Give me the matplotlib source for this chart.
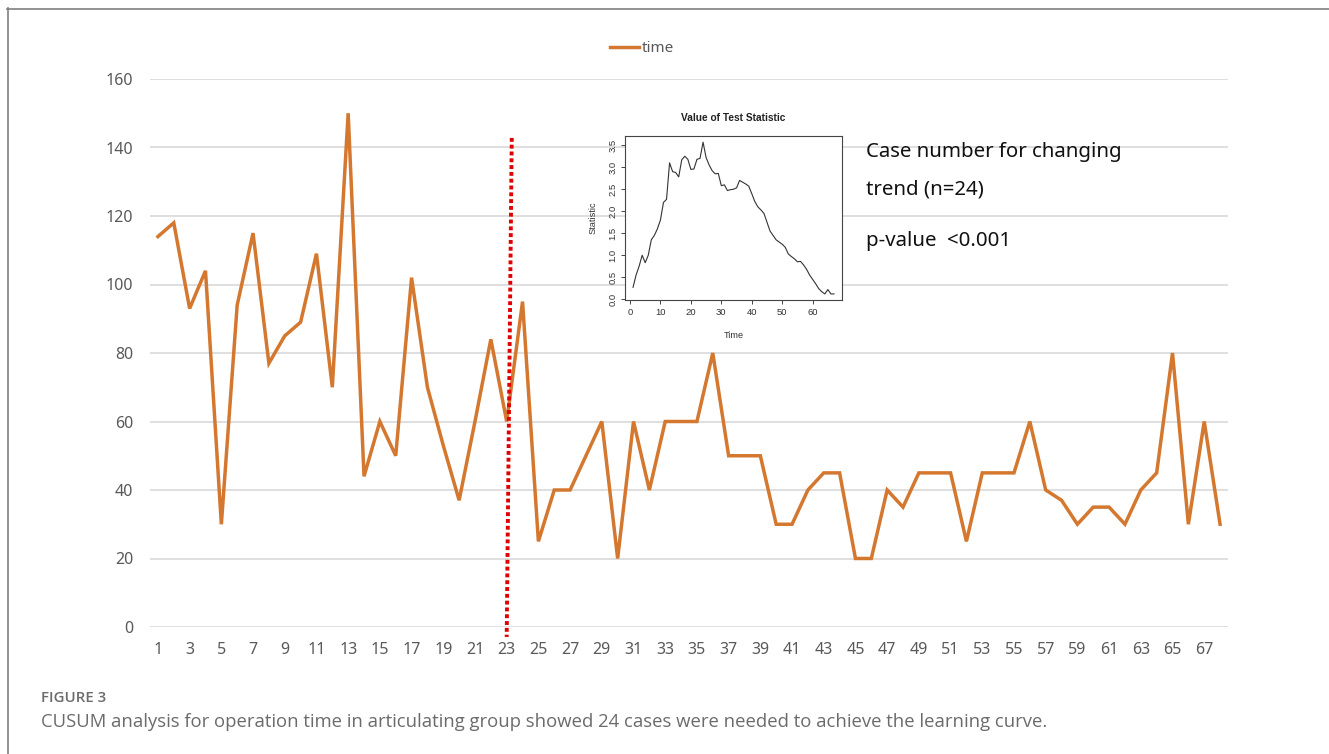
import matplotlib
matplotlib.use("Agg")
import matplotlib.pyplot as plt

# ---------------- data ----------------
cases = list(range(1, 69))
time_values = [114, 118, 93, 104, 30, 94, 115, 77, 85, 89,
               109, 70, 150, 44, 60, 50, 102, 70, 53, 37,
               60, 84, 60, 95, 25, 40, 40, 50, 60, 20,
               60, 40, 60, 60, 60, 80, 50, 50, 50, 30,
               30, 40, 45, 45, 20, 20, 40, 35, 45, 45,
               45, 25, 45, 45, 45, 60, 40, 37, 30, 35,
               35, 30, 40, 45, 80, 30, 60, 30]
x_tick_values = list(range(1, 68, 2))
x_tick_labels = [str(v) for v in x_tick_values]
y_ticks = [0, 20, 40, 60, 80, 100, 120, 140, 160]

# change-point marker (hand-drawn red dotted line)
change_x = [23.32, 23.0]
change_y = [142.8, -2.9]

# inset: value of test statistic
stat_time = list(range(1, 68))
stat_values = [0.27, 0.55, 0.75, 1.00, 0.83, 1.00, 1.35, 1.45, 1.60, 1.80,
               2.20, 2.27, 3.10, 2.90, 2.88, 2.78, 3.17, 3.25, 3.18, 2.95,
               2.96, 3.18, 3.20, 3.57, 3.22, 3.05, 2.92, 2.85, 2.86, 2.58,
               2.60, 2.47, 2.49, 2.50, 2.53, 2.70, 2.66, 2.62, 2.57, 2.40,
               2.22, 2.10, 2.03, 1.95, 1.75, 1.55, 1.45, 1.35, 1.30, 1.25,
               1.18, 1.03, 0.97, 0.92, 0.85, 0.86, 0.78, 0.68, 0.55, 0.45,
               0.35, 0.24, 0.17, 0.12, 0.22, 0.12, 0.12]
stat_xticks = [0, 10, 20, 30, 40, 50, 60]
stat_yticks = [0.0, 0.5, 1.0, 1.5, 2.0, 2.5, 3.0, 3.5]

# ---------------- figure ----------------
W, H = 1329, 754
fig = plt.figure(figsize=(W / 100, H / 100), dpi=100)
fig.patch.set_facecolor("white")

def fx(px):
    return px / W

def fy(py):
    return 1 - py / H

# outer panel frame (top and left borders)
fig.add_artist(plt.Line2D([fx(7), 1.0], [fy(8.5), fy(8.5)], color="#7f7f7f", lw=1.2,
                          transform=fig.transFigure))
fig.add_artist(plt.Line2D([fx(7.5), fx(7.5)], [fy(8), 0.0], color="#7f7f7f", lw=1.2,
                          transform=fig.transFigure))

# main axes
ax = fig.add_axes([fx(150), fy(627), (1228 - 150) / W, (627 - 79) / H])
orange = "#D4772F"
ax.plot(cases, time_values, color=orange, lw=2.5, solid_joinstyle="miter", label="time",
        zorder=3)
ax.set_xlim(0.5, 68.5)
ax.set_ylim(0, 160)
ax.set_yticks(y_ticks)
ax.set_xticks(x_tick_values)
ax.set_xticklabels(x_tick_labels)
ax.grid(axis="y", color="#d9d9d9", lw=1.2, zorder=0)
ax.grid(axis="x", visible=False)
for s in ax.spines.values():
    s.set_visible(False)
ax.tick_params(axis="both", length=0, labelcolor="#595959", labelsize=11.5)
ax.tick_params(axis="y", pad=12)
ax.tick_params(axis="x", pad=11)
for lab in ax.get_xticklabels() + ax.get_yticklabels():
    lab.set_fontfamily("Noto Sans")

# red dotted change-point line
ax.plot(change_x, change_y, color="#e00000", lw=2.8, linestyle=(0, (1.0, 0.75)),
        dash_capstyle="butt", clip_on=False, zorder=4)

# legend
leg = fig.legend(handles=ax.get_lines()[:1], labels=["time"], loc="center",
                 bbox_to_anchor=(fx(642), fy(49)), frameon=False, handlelength=1.9,
                 handletextpad=0.2, prop={"family": "Noto Sans", "size": 11})
for t in leg.get_texts():
    t.set_color("#595959")

# annotation text
txt_kw = dict(family="Noto Sans", fontsize=14.7, color="#111111", va="center", ha="left")
fig.text(fx(866), fy(152), "Case number for changing", **txt_kw)
fig.text(fx(866), fy(190), "trend (n=24)", **txt_kw)
fig.text(fx(866), fy(241), "p-value  <0.001", **txt_kw)

# inset axes (R-style plot)
ia = fig.add_axes([fx(625), fy(300), (842 - 625) / W, (300 - 136) / H])
ia.plot(stat_time, stat_values, color="#333333", lw=0.8)
ia.set_xlim(-1.64, 69.64)
ia.set_ylim(-0.018, 3.71)
ia.set_xticks(stat_xticks)
ia.set_yticks(stat_yticks)
ia.set_yticklabels([f"{v:.1f}" for v in stat_yticks], rotation=90, va="center")
for s in ia.spines.values():
    s.set_color("#444444")
    s.set_linewidth(0.8)
ia.tick_params(axis="both", direction="out", length=3, width=0.7, color="#444444",
               labelsize=6.8, labelcolor="#333333", pad=2.5)
for lab in ia.get_xticklabels() + ia.get_yticklabels():
    lab.set_fontfamily("Liberation Sans")
ia.set_title("Value of Test Statistic", fontsize=7.3, fontweight="bold",
             family="Liberation Sans", color="#222222", pad=11)
ia.set_xlabel("Time", fontsize=6.6, family="Liberation Sans", color="#333333", labelpad=10)
ia.set_ylabel("Statistic", fontsize=6.6, family="Liberation Sans", color="#333333",
              labelpad=8)

# caption
fig.text(fx(41), fy(698), "FIGURE 3", family="Open Sans", fontweight="semibold",
         fontsize=10.8, color="#6b6b6b", va="center", ha="left")
fig.text(fx(41), fy(722),
         "CUSUM analysis for operation time in articulating group showed 24 cases were "
         "needed to achieve the learning curve.",
         family="Open Sans", fontsize=13.3, color="#6b6b6b", va="center", ha="left")

fig.savefig("out.png", dpi=100, facecolor="white")
